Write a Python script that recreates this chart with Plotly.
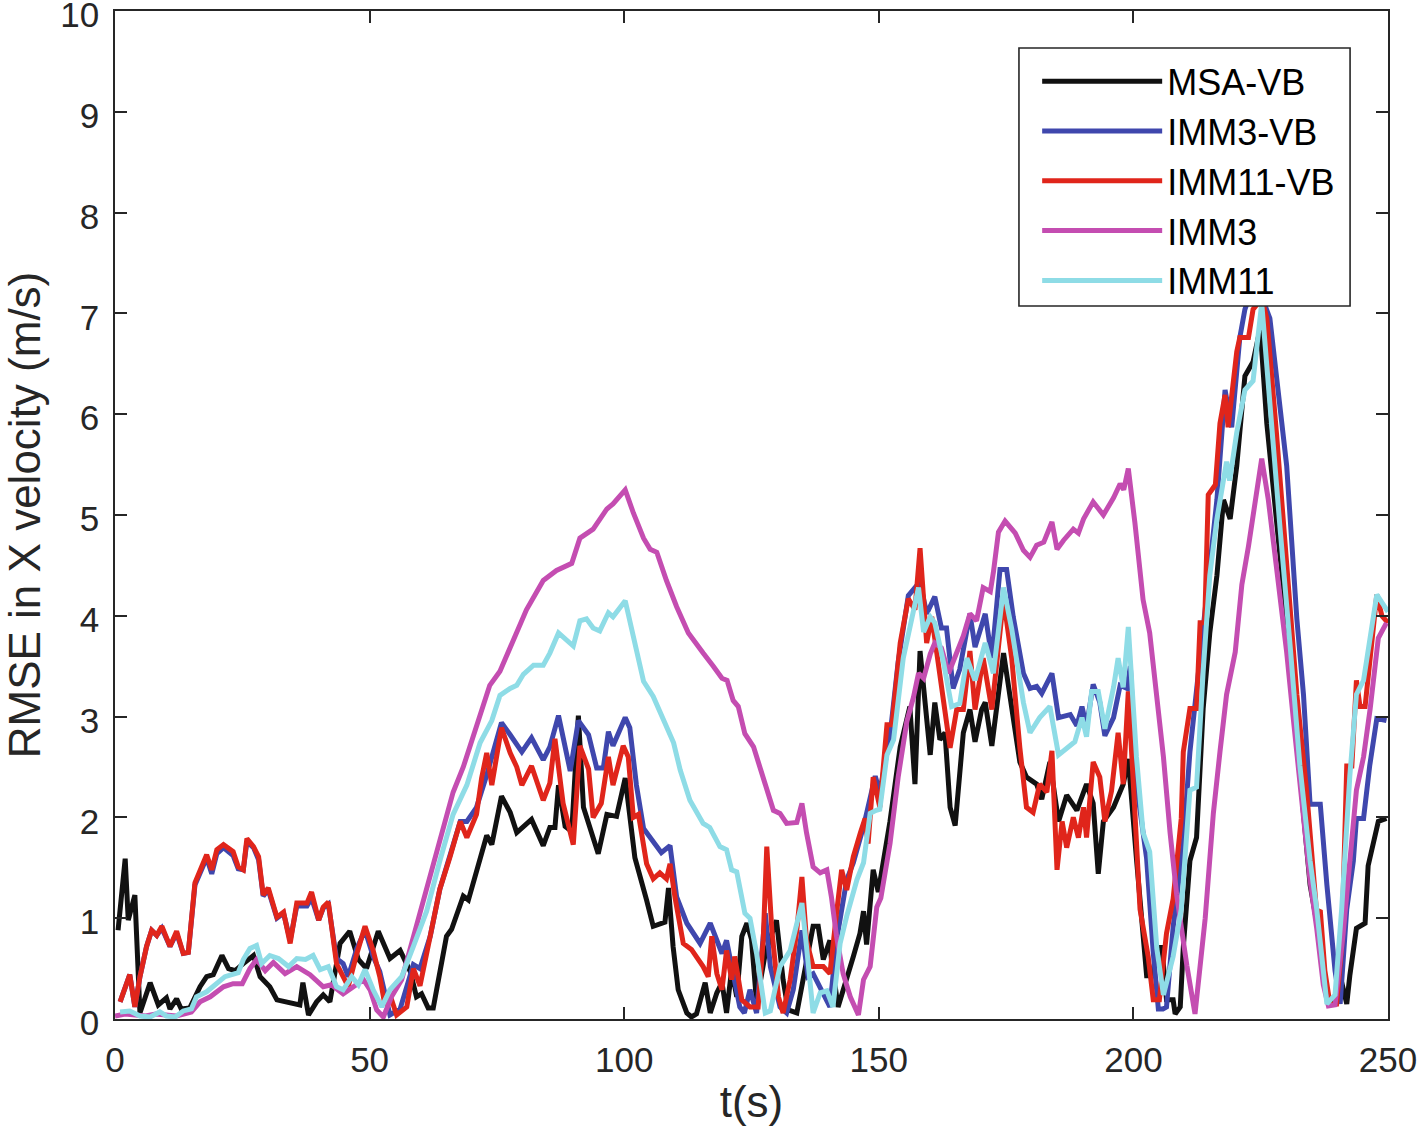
import plotly.graph_objects as go

# ---- data ----
msa_t = [0.6,2.0,2.6,3.9,4.9,6.9,8.5,10.1,10.8,12.1,13,14.7,16.7,18,19.3,21,22.3,23.6,25.2,27.2,28.5,30.4,31.8,34.4,36.3,36.9,38,39.6,40.9,42.2,44.2,46.1,47.8,49.4,51.7,54,56,58,59.2,60.2,61.5,62.5,65.1,66.1,68.4,69.4,71,73,74,75.9,77.6,78.9,81.8,84.1,85.4,86.4,87.1,88.4,89.7,91,92,94.9,96.6,97.5,98.5,100.2,102.1,104.4,105.7,108,108.7,109.6,110.6,112.3,113.2,114.2,115.9,116.9,118.2,119.2,120.1,121.1,122.1,123.1,124.1,125,126,127.7,129.9,131.2,132.2,133.9,135.5,137.1,138.1,139.1,140.4,140.7,142,143.7,145,146.3,147,147.6,148.9,149.9,152.2,154.2,156.1,157.1,158.1,160.1,161,162,163,164,165,166.6,167.9,168.9,170.2,170.9,172.2,174.5,176.1,177.7,179,181,182,183.6,185.3,186.9,188.9,190.8,192.1,193.1,194.1,196.1,198,199,200.6,201.6,202.6,203.6,204.9,205.6,206.5,207.8,208.2,209.2,209.8,211.1,212.4,213.7,215,216.4,217.7,219,220.3,221.9,223.5,224.9,226.2,228.8,231.4,233.4,234.7,236.7,238,239.3,240.6,241.9,242.5,243.8,245.5,246.1,247.4,248.1,249.7]
msa_v = [0.88,1.59,0.98,1.23,0.06,0.36,0.14,0.21,0.1,0.2,0.1,0.11,0.32,0.42,0.44,0.63,0.5,0.48,0.55,0.63,0.42,0.32,0.19,0.16,0.14,0.36,0.04,0.17,0.24,0.17,0.75,0.87,0.59,0.5,0.87,0.6,0.68,0.47,0.22,0.25,0.11,0.11,0.82,0.89,1.22,1.18,1.46,1.82,1.73,2.21,2.05,1.85,1.98,1.72,1.9,1.9,2.32,1.91,1.86,3.01,2.1,1.64,2.03,2.02,2.01,2.39,1.6,1.18,0.92,0.96,1.3,0.72,0.29,0.06,0.02,0.05,0.36,0.06,0.26,0.36,0.06,0.49,0.22,0.82,0.95,0.79,0.16,0.65,0.98,0.39,0.09,0.06,0.49,0.92,0.92,0.59,0.78,0.59,0.12,0.39,0.62,0.85,1.07,0.74,1.48,1.26,1.96,2.7,3.1,2.33,3.65,2.62,3.14,2.77,2.84,2.1,1.92,2.84,3.07,2.75,3.07,3.14,2.71,3.63,3.1,2.55,2.4,2.33,2.18,2.55,1.96,2.22,2.07,2.33,2.14,1.44,1.96,2.1,2.33,2.58,1.59,0.95,0.43,0.43,0.71,0.71,0.19,0.19,0.05,0.12,0.71,1.57,1.8,3.08,3.83,4.4,5.15,4.96,5.49,6.38,6.52,6.85,5.91,4.59,3.36,2.04,1.33,0.76,0.24,0.15,0.43,0.15,0.43,0.9,0.95,1.52,1.8,1.96,1.99]

imm3vb_t = [1,2.9,3.9,4.9,6.2,7.2,8.2,9.2,10.8,12.1,13.4,14.4,15.7,18,19,20,21.3,23.2,24.2,25.2,25.9,27.2,28.2,29.1,30.1,31.8,33.1,34.4,35.7,37.7,38.6,40,40.9,41.9,43.5,44.8,45.8,47.5,49.1,50.7,52,54,56,58.6,59.9,61.9,63.8,65.8,67.8,69.1,71,73,75.9,77.6,79.9,81.8,84.1,85.4,87.1,89.4,91,93,94.6,95.9,96.9,97.8,100.2,101.1,102.4,103.8,105.7,107.3,109,110.3,112.3,114.9,116.9,119.2,120.1,121.7,122.7,123.6,124.7,126,127.7,128.7,130.6,131.9,133.2,134.9,136.1,137.1,139.1,140.4,141.7,143.7,145,147,149.3,150.2,152.2,153.8,155.8,158.1,159.4,161,162.3,163.3,164.6,165.9,167.9,168.9,170.9,172.2,173.8,175.1,176.4,178.4,179.7,181,182,184,185.3,187.6,188.9,189.9,190.8,192.1,193.4,194.4,196.1,197.4,198.7,199.4,200.6,202.6,203.9,204.9,205.8,206.5,207.8,209.8,211.1,213.1,215,216.4,218,219.3,220.9,221.9,223,224.2,226.8,230.1,232.1,233.4,234.7,236.7,238,239.6,240.6,241.9,243.2,243.8,245.2,246.4,247.8,249.7]
imm3vb_v = [0.17,0.44,0.12,0.42,0.72,0.88,0.83,0.9,0.72,0.85,0.65,0.66,1.33,1.6,1.44,1.64,1.7,1.62,1.49,1.48,1.76,1.7,1.58,1.22,1.28,1.0,1.05,0.78,1.12,1.12,1.2,0.98,1.1,1.14,0.6,0.55,0.42,0.7,0.88,0.62,0.47,0.04,0.1,0.54,0.5,0.82,1.29,1.61,1.96,1.96,2.1,2.42,2.94,2.82,2.65,2.79,2.57,2.7,3.01,2.46,2.96,2.82,2.49,2.49,2.85,2.71,2.99,2.89,2.32,1.89,1.75,1.65,1.72,1.21,0.95,0.75,0.95,0.65,0.78,0.39,0.12,0.06,0.29,0.06,1.05,0.52,0.12,0.06,0.29,0.88,0.42,0.45,0.26,0.12,0.78,1.38,1.55,1.91,2.41,2.25,2.81,3.54,4.2,4.34,4.02,4.19,3.88,3.88,3.28,3.47,4.02,3.69,4.02,3.58,4.46,4.46,3.99,3.43,3.28,3.3,3.23,3.43,2.99,3.02,2.91,3.1,2.9,3.32,3.14,2.81,2.99,3.31,3.28,3.5,2.33,1.59,0.66,0.1,0.1,0.12,0.91,1.75,2.65,3.6,4.59,5.15,6.24,5.87,6.76,7.04,7.2,7.3,6.95,5.49,3.97,3.22,2.13,2.13,1.33,0.48,0.15,1.09,1.57,1.99,1.99,2.51,2.98,2.96]

imm11vb_t = [1,2.9,3.9,4.9,6.2,7.2,8.2,9.2,10.8,12.1,13.4,14.4,15.7,18,19,20,21.3,23.2,24.2,25.2,25.9,27.2,28.2,29.1,30.1,31.8,33.1,34.4,35.7,37.7,38.6,40,40.9,41.9,43.5,44.8,45.8,47.5,49.1,50.7,52,53,54,55.3,57.3,58.6,59.9,61.9,63.8,65.8,67.8,69.1,71,72,73,74,75.9,77.6,78.9,79.9,81.8,84.1,85.4,86.4,88,90,91.3,93,93.9,95.5,96.9,97.8,99.8,100.8,101.8,102.8,104.4,105.7,107,108.3,109,110,111.6,113.2,115.5,116.5,117.2,118.2,119.2,120.1,121.1,121.7,123.1,124.7,126.3,127.3,128,129,130.3,131.2,132.6,133.9,134.9,135.8,137.1,139.1,140.4,141.7,142.7,143.7,145,146.4,147.3,147.9,148.9,150.2,151.6,152.6,154.2,155.8,157.1,158.1,159.4,160.4,162,164,165.3,166.6,167.9,168.9,170.5,172.2,174.5,176.1,177.7,179,180.3,181.6,183,184,185,186,186.9,188.2,189.2,190.2,190.8,192.1,193.4,194.4,195.7,197,198,199,200.3,201.3,202.9,203.9,205.1,206.5,207.8,209.4,209.8,211.1,212.4,213.1,214,214.7,216.1,217,218,218.6,220.3,220.9,222.6,223.5,225.2,226.2,228.1,230.1,232.1,234,235.4,236,236.7,237.6,238.6,239.9,240.9,241.9,242.9,243.8,244.5,245.5,247.8,248.8,250]
imm11vb_v = [0.17,0.44,0.12,0.42,0.72,0.88,0.83,0.92,0.72,0.87,0.65,0.66,1.35,1.63,1.48,1.68,1.73,1.66,1.51,1.48,1.79,1.71,1.61,1.23,1.3,1.01,1.06,0.75,1.15,1.15,1.26,0.98,1.11,1.16,0.55,0.42,0.32,0.65,0.92,0.68,0.42,0.14,0.24,0.04,0.12,0.5,0.33,0.82,1.29,1.61,1.96,1.8,2.03,2.39,2.64,2.32,2.89,2.64,2.5,2.32,2.51,2.17,2.34,2.78,2.14,1.73,2.71,2.48,2.0,2.14,2.6,2.32,2.71,2.6,2.0,2.03,1.54,1.39,1.45,1.39,1.54,1.2,0.75,0.69,0.52,0.42,0.82,0.45,0.29,0.68,0.39,0.62,0.19,0.12,0.12,0.78,1.71,0.88,0.22,0.06,0.39,0.88,1.41,0.78,0.52,0.52,0.45,1.05,1.48,1.28,1.61,1.85,1.99,1.74,2.4,2.1,2.92,2.92,3.73,4.17,4.06,4.67,3.73,3.99,3.39,2.69,3.07,3.07,3.65,3.07,3.58,3.07,4.17,3.58,2.69,2.1,2.05,2.33,2.25,2.66,1.48,1.96,1.7,2.0,1.8,2.1,1.8,2.55,2.4,1.96,2.26,2.84,2.33,3.25,2.04,1.09,0.62,0.19,0.19,0.85,1.19,1.99,2.65,3.08,3.08,3.93,3.93,5.2,5.3,5.91,6.19,5.87,6.62,6.76,6.76,7.04,7.15,6.95,5.81,4.49,3.22,2.27,1.37,1.05,1.08,0.48,0.15,0.15,0.71,2.51,2.51,3.36,3.1,3.1,4.21,4.0,3.93]

imm3_t = [0,2,4,6,8,10,12,13.5,15,16.7,18.7,21.3,23.2,25,26.5,27.8,29.5,31.1,33.4,35.7,38.3,40.9,42.5,44.8,46.8,48.8,50.1,51.4,52.7,54.3,56.3,58.6,61.2,63.8,66.4,68.4,71,73.6,75.6,78.2,80.8,84.1,86.7,89.7,91.3,93.9,96.6,97.8,100.2,101.8,103.8,105.1,106.4,108.3,110.3,112.6,114.2,115.5,117.5,119.2,120.2,121.4,122.4,123.7,125.4,127.3,129.3,130.6,131.9,133.9,134.9,135.8,137.1,138.5,139.8,140.7,141.7,143,144.4,146,147,148.3,149.6,150.4,152.2,153.8,155.5,156.8,157.8,158.8,160.1,161,162.3,163.7,165.3,166.6,167.9,169.2,170.5,171.9,172.5,173.5,174.8,176.8,178.4,179.7,181,182.4,184,185,186.3,188.2,189.2,190.2,192.1,194.1,196.1,197.4,198.1,199,200.3,201.9,203.2,204.6,205.9,207.2,208.5,210.5,212.1,214.1,215.7,217,218.3,220,221.3,222.6,223.9,225.2,226.5,228.1,230.1,231.4,233,234.7,236,237.3,238.3,239.6,241.2,242.5,243.8,245.2,246.5,248.1,249.7]
imm3_v = [0.03,0.05,0.04,0.03,0.05,0.04,0.03,0.05,0.07,0.17,0.22,0.32,0.35,0.35,0.5,0.59,0.48,0.56,0.45,0.52,0.44,0.32,0.34,0.25,0.32,0.39,0.29,0.09,0.02,0.22,0.39,0.82,1.28,1.75,2.25,2.5,2.89,3.31,3.45,3.77,4.06,4.35,4.45,4.52,4.77,4.86,5.06,5.11,5.25,5.02,4.77,4.66,4.63,4.35,4.09,3.83,3.73,3.63,3.5,3.38,3.36,3.16,3.1,2.83,2.7,2.4,2.07,2.04,1.94,1.95,2.14,1.85,1.51,1.45,1.48,1.21,0.82,0.45,0.22,0.04,0.39,0.52,1.11,1.2,1.74,2.4,2.95,3.19,3.43,3.38,3.62,3.73,3.68,3.43,3.62,3.8,4.02,3.95,4.28,4.24,4.43,4.83,4.94,4.82,4.65,4.58,4.7,4.73,4.93,4.66,4.75,4.86,4.82,4.96,5.13,5.0,5.17,5.31,5.25,5.46,4.92,4.16,3.83,3.17,2.6,1.85,1.23,0.53,0.05,1.0,2.04,2.65,3.22,3.64,4.31,4.69,5.15,5.56,5.15,4.49,3.64,2.98,2.22,1.37,0.9,0.34,0.13,0.14,0.85,1.61,2.27,2.6,3.08,3.78,3.93]

imm11_t = [1,2.9,4.9,6.9,8.8,10.1,11.8,13.4,15,16,18,20,21.6,24.2,25.2,26.5,27.8,28.8,30.4,32.1,34.1,35.7,37.4,38.9,40.3,41.9,43.5,44.8,46.5,47.8,49.1,50.7,52.4,54,56.3,58.6,61.2,63.8,66.4,69.1,71.7,74,75.6,77.6,78.9,80.2,82.2,84.1,85.4,87.1,88.7,90,91.3,92.6,93.9,95.2,96.9,97.8,100.2,101.8,103.8,105.7,107.7,109.7,111,112.9,115.5,116.8,118.8,120.1,121.1,122.1,123.7,124.7,126,127.7,128.7,130.6,132.6,134.9,135.8,137.1,138.5,139.8,141,142.4,143.7,145.7,147,148.3,149.5,150.2,151.6,152.9,154.8,156.1,157.8,158.8,160.1,161,162.7,164.3,165.9,167.3,168.9,170.9,172.5,174.5,176.1,178.4,179.7,181.6,183.6,185.3,186.9,188.5,189.9,190.8,191.8,193.1,194.4,196.1,197,198,199,200.6,201.9,203.2,204.6,205.9,207.8,209.4,211.1,212.4,213.7,215,216.4,218.3,218.9,220.3,221.9,223.5,225.2,226.8,228.8,230.8,232.7,234.7,236,238,239.6,240.9,242.5,243.8,245.2,247.8,250]
imm11_v = [0.07,0.08,0.03,0.02,0.07,0.03,0.02,0.08,0.1,0.22,0.27,0.36,0.42,0.46,0.59,0.7,0.73,0.55,0.63,0.6,0.52,0.6,0.59,0.63,0.49,0.52,0.32,0.29,0.42,0.34,0.49,0.29,0.12,0.29,0.42,0.72,1.07,1.57,2.03,2.32,2.74,2.96,3.21,3.28,3.31,3.42,3.51,3.51,3.63,3.83,3.76,3.7,3.95,3.97,3.88,3.85,4.03,3.99,4.15,3.77,3.35,3.2,2.96,2.74,2.47,2.17,1.94,1.9,1.71,1.68,1.48,1.46,1.05,1.0,0.65,0.06,0.08,0.52,0.68,1.15,0.72,0.06,0.26,0.28,0.12,0.75,1.02,1.38,1.55,2.04,2.07,2.08,2.62,2.77,3.58,3.87,4.28,3.84,3.99,3.93,3.54,3.1,3.13,3.58,3.36,3.73,3.43,4.28,3.87,3.14,2.84,2.99,3.1,2.62,2.69,2.75,2.99,2.8,3.25,3.25,2.88,3.29,3.58,3.29,3.89,2.6,1.85,1.66,0.7,0.24,0.62,1.09,2.27,2.3,3.45,4.4,4.96,5.53,5.34,5.82,6.24,6.33,7.1,6.05,4.87,3.69,2.51,1.57,1.09,0.15,0.24,1.09,2.41,3.22,3.36,4.21,4.04]

names = ["MSA-VB", "IMM3-VB", "IMM11-VB", "IMM3", "IMM11"]
xs = [msa_t, imm3vb_t, imm11vb_t, imm3_t, imm11_t]
ys = [msa_v, imm3vb_v, imm11vb_v, imm3_v, imm11_v]
colors = ["#111111", "#3F47AD", "#E0251B", "#C44DB1", "#8EDCE6"]

FONT = "Liberation Sans, Arial, sans-serif"
DARK = "#262626"

fig = go.Figure()
for n, x, y, c in zip(names, xs, ys, colors):
    fig.add_trace(go.Scatter(x=x, y=y, mode="lines", name=n,
                             line=dict(color=c, width=5)))

# legend box (white, drawn over the lines like the reference)
fig.add_shape(type="rect", xref="paper", yref="paper",
              x0=0.7101, x1=0.9702, y0=0.7073, y1=0.9633,
              fillcolor="white", line=dict(color=DARK, width=1.6), layer="above")

tickfont = dict(family=FONT, size=35, color=DARK)
titlefont = dict(family=FONT, size=44, color=DARK)
fig.update_layout(
    width=1418, height=1143,
    paper_bgcolor="white", plot_bgcolor="white",
    margin=dict(l=115, r=30, t=11, b=124),
    font=dict(family=FONT, color=DARK),
    showlegend=True,
    legend=dict(x=0.7244, y=0.960, xanchor="left", yanchor="top",
                bgcolor="rgba(0,0,0,0)", borderwidth=0,
                font=dict(family=FONT, size=36, color="#000000"),
                itemwidth=120, tracegroupgap=0),
)
fig.update_xaxes(range=[0, 250], tickvals=[0, 50, 100, 150, 200, 250],
                 ticks="inside", ticklen=12, tickwidth=1.6, tickcolor=DARK,
                 showline=True, linecolor=DARK, linewidth=1.6, mirror="ticks",
                 showgrid=False, zeroline=False, tickfont=tickfont,
                 automargin=False, ticklabelstandoff=9, ticklabeloverflow="allow",
                 title=dict(text="t(s)", font=titlefont, standoff=8))
fig.update_yaxes(range=[0, 10], tickvals=list(range(0, 11)),
                 ticks="inside", ticklen=12, tickwidth=1.6, tickcolor=DARK,
                 showline=True, linecolor=DARK, linewidth=1.6, mirror="ticks",
                 showgrid=False, zeroline=False, tickfont=tickfont,
                 automargin=False, ticklabelstandoff=7, ticklabelshift=4,
                 ticklabeloverflow="allow",
                 title=dict(text="RMSE in X velocity (m/s)", font=titlefont, standoff=27))

fig.write_html("out.html", config={"displayModeBar": False},
               post_script="document.body.style.margin='0px';")
